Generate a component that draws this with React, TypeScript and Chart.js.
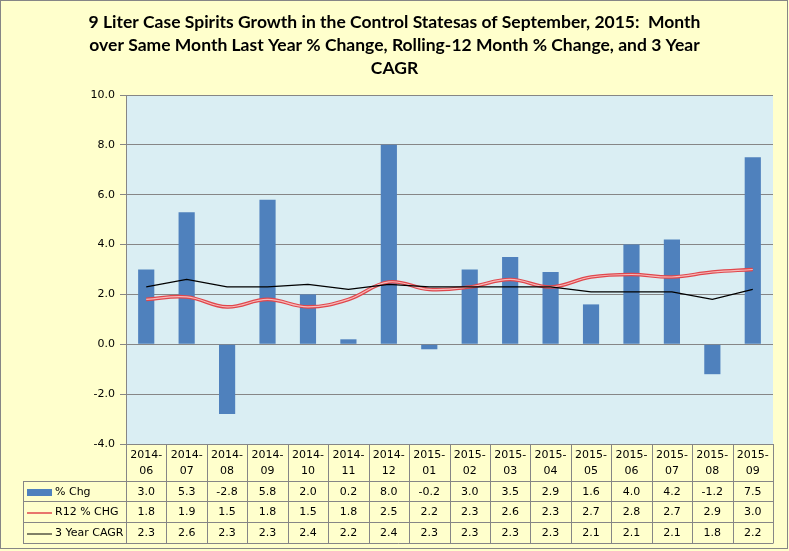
import React, { useEffect, useRef } from "react";
import { Chart, registerables } from "chart.js";

Chart.register(...registerables);

const categories = [
  "2014-06", "2014-07", "2014-08", "2014-09", "2014-10", "2014-11", "2014-12",
  "2015-01", "2015-02", "2015-03", "2015-04", "2015-05", "2015-06", "2015-07", "2015-08", "2015-09",
];
const pctChg = [3.0, 5.3, -2.8, 5.8, 2.0, 0.2, 8.0, -0.2, 3.0, 3.5, 2.9, 1.6, 4.0, 4.2, -1.2, 7.5];
const r12Chg = [1.8, 1.9, 1.5, 1.8, 1.5, 1.8, 2.5, 2.2, 2.3, 2.6, 2.3, 2.7, 2.8, 2.7, 2.9, 3.0];
const cagr3 = [2.3, 2.6, 2.3, 2.3, 2.4, 2.2, 2.4, 2.3, 2.3, 2.3, 2.3, 2.1, 2.1, 2.1, 1.8, 2.2];
const seriesNames = ["% Chg", "R12 % CHG", "3 Year CAGR"];
const titleLines = [
  "9 Liter Case Spirits Growth in the Control Statesas of September, 2015:  Month",
  "over Same Month Last Year % Change, Rolling-12 Month % Change, and 3 Year",
  "CAGR",
];
const yMin = -4;
const yMax = 10;
const yStep = 2;

const W = 789;
const H = 551;
const GRID = "#868686";
const FONT = "11px 'DejaVu Sans'";

const decorPlugin = {
  id: "decor",
  beforeDraw(chart: any) {
    const { ctx, chartArea } = chart;
    ctx.save();
    ctx.fillStyle = "#FFFFCC";
    ctx.fillRect(0, 0, W, H);
    ctx.fillStyle = "#DAEEF3";
    ctx.fillRect(chartArea.left, chartArea.top, chartArea.right - chartArea.left, chartArea.bottom - chartArea.top);
    ctx.strokeStyle = GRID;
    ctx.lineWidth = 1;
    ctx.strokeRect(0.5, 0.5, W - 2, H - 3);
    ctx.restore();
  },
  afterDraw(chart: any) {
    const { ctx, chartArea } = chart;
    ctx.save();
    // title
    ctx.fillStyle = "#000";
    ctx.font = "bold 17.5px Lato";
    ctx.textAlign = "center";
    ctx.textBaseline = "middle";
    titleLines.forEach((t, i) => ctx.fillText(t, W / 2, 22 + i * 23));

    // data table
    const left = chartArea.left;
    const right = chartArea.right;
    const n = categories.length;
    const cw = (right - left) / n;
    const top = chartArea.bottom;
    const hdrB = 481;
    const rows = [hdrB, 501, 522, 543];
    const tableLeft = 23;
    ctx.strokeStyle = GRID;
    ctx.lineWidth = 1;
    ctx.beginPath();
    for (let i = 0; i <= n; i++) {
      const x = Math.round(left + i * cw) + 0.5;
      ctx.moveTo(x, top);
      ctx.lineTo(x, rows[3]);
    }
    rows.forEach((y) => {
      ctx.moveTo(tableLeft, y + 0.5);
      ctx.lineTo(Math.round(right) + 0.5, y + 0.5);
    });
    ctx.moveTo(tableLeft + 0.5, hdrB);
    ctx.lineTo(tableLeft + 0.5, rows[3]);
    ctx.stroke();

    ctx.font = FONT;
    ctx.fillStyle = "#000";
    ctx.textAlign = "center";
    ctx.textBaseline = "middle";
    categories.forEach((c, i) => {
      const cx = left + (i + 0.5) * cw;
      const [a, b] = c.split("-");
      ctx.fillText(a + "-", cx, 455);
      ctx.fillText(b, cx, 471);
    });
    const series = [pctChg, r12Chg, cagr3];
    series.forEach((s, r) => {
      const cy = (rows[r] + rows[r + 1]) / 2 + 1;
      s.forEach((v, i) => {
        const cx = left + (i + 0.5) * cw;
        ctx.fillText(v.toFixed(1), cx, cy);
      });
    });
    // legend keys
    ctx.textAlign = "left";
    seriesNames.forEach((name, r) => {
      const cy = (rows[r] + rows[r + 1]) / 2 + 1;
      if (r === 0) {
        ctx.fillStyle = "#4F81BD";
        ctx.fillRect(27, cy - 3, 25, 7);
      } else {
        ctx.strokeStyle = r === 1 ? "#E0474C" : "#000";
        ctx.lineWidth = r === 1 ? 1.5 : 1;
        ctx.beginPath();
        ctx.moveTo(27, cy + 0.5);
        ctx.lineTo(52, cy + 0.5);
        ctx.stroke();
      }
      ctx.fillStyle = "#000";
      ctx.fillText(name, 55, cy);
    });
    ctx.restore();
  },
};

export default function App() {
  const ref = useRef<HTMLCanvasElement>(null);
  useEffect(() => {
    document.body.style.margin = "0";
    const chart = new Chart(ref.current as HTMLCanvasElement, {
      type: "bar",
      data: {
        labels: categories,
        datasets: [
          {
            type: "line",
            label: seriesNames[2],
            data: cagr3,
            borderColor: "#000",
            borderWidth: 1.2,
            pointRadius: 0,
            tension: 0,
            order: 0,
          } as any,
          {
            type: "line",
            label: seriesNames[1] + " inner",
            data: r12Chg,
            borderColor: "#F6B9B9",
            borderWidth: 1.2,
            pointRadius: 0,
            tension: 0.4,
            order: 1,
          } as any,
          {
            type: "line",
            label: seriesNames[1],
            data: r12Chg,
            borderColor: "#E0474C",
            borderWidth: 3.6,
            pointRadius: 0,
            tension: 0.4,
            order: 2,
          } as any,
          {
            type: "bar",
            label: seriesNames[0],
            data: pctChg,
            backgroundColor: "#4F81BD",
            barPercentage: 0.4,
            categoryPercentage: 1,
            order: 3,
          },
        ],
      },
      options: {
        responsive: false,
        animation: false,
        layout: { padding: { left: 0, right: 16, top: 95, bottom: 107 } },
        plugins: { legend: { display: false }, tooltip: { enabled: false }, title: { display: false } },
        scales: {
          x: { display: false },
          y: {
            min: yMin,
            max: yMax,
            ticks: {
              stepSize: yStep,
              color: "#000",
              font: { family: "DejaVu Sans", size: 11 },
              padding: 5,
              callback: (v: any) => Number(v).toFixed(1),
            },
            grid: { color: GRID, tickLength: 6, drawTicks: true },
            border: { display: true, color: GRID },
            afterFit: (s: any) => {
              s.width = 126;
            },
          },
        },
      },
      plugins: [decorPlugin],
    });
    return () => chart.destroy();
  }, []);
  return <canvas ref={ref} width={W} height={H} style={{ display: "block" }} />;
}
